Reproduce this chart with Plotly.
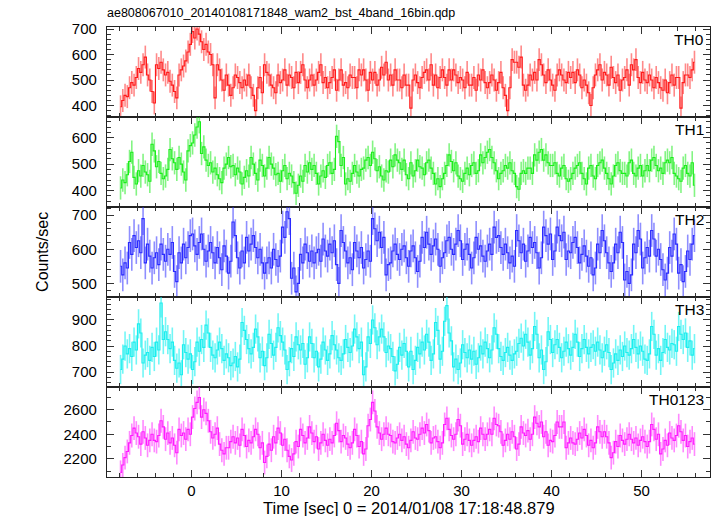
import plotly.graph_objects as go
from plotly.subplots import make_subplots

# ---------------- data (0.25 s bins starting at t = -8 s) ----------------
t_start = -8.0
bin_width = 0.25

th0 = [
    395, 420, 440, 435, 470, 490, 480, 510,
    545, 530, 560, 590, 520, 500, 455, 410,
    560, 545, 570, 540, 520, 530, 495, 480,
    455, 430, 520, 540, 555, 575, 610, 640,
    690, 665, 700, 680, 650, 620, 640, 610,
    600, 560, 430, 560, 540, 500, 460, 520,
    480, 440, 470, 520, 510, 490, 470, 500,
    480, 520, 470, 440, 380, 470, 510, 450,
    560, 530, 520, 480, 470, 450, 520, 490,
    500, 540, 480, 520, 510, 470, 530, 490,
    530, 560, 500, 470, 500, 520, 480, 500,
    530, 560, 490, 510, 470, 490, 510, 540,
    460, 500, 540, 480, 490, 470, 520, 510,
    510, 470, 540, 520, 540, 500, 460, 530,
    500, 530, 480, 500, 550, 520, 570, 500,
    520, 480, 540, 500, 500, 470, 520, 480,
    480, 390, 500, 520, 490, 470, 510, 530,
    540, 500, 560, 480, 520, 470, 510, 540,
    510, 480, 540, 500, 540, 520, 490, 510,
    500, 470, 530, 480, 480, 510, 460, 520,
    500, 540, 490, 470, 490, 520, 500, 460,
    490, 530, 470, 440, 380, 470, 580, 570,
    570, 550, 590, 480, 460, 480, 520, 500,
    530, 500, 580, 560, 520, 490, 540, 500,
    480, 460, 520, 540, 520, 500, 490, 530,
    510, 530, 490, 540, 520, 470, 500, 480,
    450, 400, 470, 520, 540, 560, 500, 530,
    520, 480, 550, 510, 490, 520, 460, 500,
    510, 540, 480, 560, 540, 580, 510, 490,
    530, 500, 490, 520, 500, 470, 510, 490,
    470, 460, 500, 450, 490, 520, 480, 510,
    510, 390, 490, 520, 520, 510, 540, 570,
]

th1 = [
    410, 440, 430, 460, 510, 545, 450, 425,
    475, 455, 495, 470, 460, 435, 575, 550,
    490, 510, 465, 445, 455, 480, 555, 520,
    505, 480, 525, 500, 470, 440, 550, 570,
    580, 610, 640, 660, 540, 565, 515, 495,
    505, 470, 485, 460, 445, 430, 485, 500,
    525, 490, 495, 460, 485, 470, 425, 450,
    475, 455, 525, 500, 465, 440, 515, 495,
    455, 485, 525, 500, 485, 460, 465, 435,
    475, 495, 445, 465, 455, 430, 390, 420,
    455, 435, 495, 470, 505, 480, 495, 465,
    425, 455, 475, 450, 495, 505, 465, 480,
    605, 585, 495, 525, 425, 445, 435, 465,
    495, 470, 455, 480, 485, 515, 525, 495,
    545, 520, 475, 490, 455, 440, 475, 470,
    515, 490, 535, 515, 505, 480, 515, 460,
    445, 505, 455, 475, 515, 490, 485, 460,
    505, 515, 485, 465, 425, 445, 415, 445,
    465, 495, 535, 510, 475, 505, 455, 445,
    435, 465, 485, 460, 495, 505, 465, 475,
    535, 505, 525, 545, 555, 525, 505, 475,
    445, 465, 475, 495, 485, 505, 475, 465,
    415, 405, 465, 475, 465, 485, 485, 465,
    535, 515, 545, 555, 515, 535, 505, 495,
    495, 505, 465, 455, 485, 495, 445, 435,
    445, 465, 485, 495, 505, 465, 445, 425,
    485, 495, 455, 445, 495, 505, 515, 485,
    465, 445, 425, 455, 495, 505, 475, 465,
    465, 455, 505, 515, 465, 455, 485, 495,
    455, 475, 495, 475, 515, 525, 495, 475,
    485, 465, 505, 515, 505, 525, 465, 455,
    445, 435, 485, 495, 465, 455, 505, 420,
]

th2 = [
    550, 525, 560, 545, 620, 585, 640, 605,
    625, 590, 690, 560, 615, 580, 545, 575,
    590, 555, 615, 585, 565, 600, 585, 620,
    535, 505, 590, 560, 615, 575, 605, 640,
    645, 610, 585, 620, 645, 600, 565, 595,
    620, 590, 560, 605, 575, 540, 610, 580,
    530, 565, 680, 640, 575, 545, 595, 560,
    635, 595, 615, 640, 605, 575, 600, 560,
    530, 560, 575, 545, 600, 570, 550, 580,
    665, 635, 710, 690, 515, 545, 475, 500,
    585, 560, 615, 590, 565, 595, 560, 590,
    600, 565, 630, 595, 580, 615, 590, 625,
    555, 500, 655, 620, 595, 560, 575, 540,
    620, 595, 575, 605, 545, 570, 595, 565,
    690, 660, 625, 650, 605, 635, 525, 555,
    560, 595, 615, 585, 570, 600, 610, 575,
    550, 595, 610, 575, 535, 565, 635, 605,
    650, 615, 585, 610, 630, 600, 550, 575,
    590, 625, 635, 600, 585, 615, 655, 625,
    570, 600, 615, 585, 545, 575, 635, 600,
    610, 580, 565, 595, 615, 585, 665, 635,
    640, 605, 585, 615, 590, 560, 580, 550,
    655, 625, 590, 615, 565, 595, 635, 605,
    620, 590, 545, 575, 665, 640, 615, 645,
    570, 595, 665, 640, 625, 650, 570, 595,
    590, 620, 635, 605, 560, 585, 610, 580,
    550, 575, 525, 545, 615, 590, 655, 625,
    590, 560, 535, 560, 615, 590, 650, 620,
    510, 535, 500, 525, 615, 590, 655, 630,
    545, 575, 605, 580, 655, 630, 580, 600,
    570, 540, 510, 530, 605, 580, 645, 615,
    530, 555, 505, 535, 595, 570, 615, 640,
]

th3 = [
    710, 750, 800, 770, 790, 760, 815, 785,
    885, 850, 735, 765, 775, 745, 795, 760,
    815, 785, 965, 825, 855, 825, 790, 815,
    745, 715, 735, 690, 805, 775, 750, 770,
    710, 740, 815, 780, 825, 795, 880, 850,
    795, 765, 755, 785, 815, 790, 745, 770,
    755, 725, 735, 760, 720, 750, 890, 860,
    825, 790, 770, 795, 865, 835, 755, 780,
    725, 755, 845, 810, 765, 795, 870, 840,
    815, 785, 710, 740, 790, 760, 835, 805,
    785, 810, 730, 755, 835, 810, 755, 780,
    720, 750, 815, 785, 745, 770, 840, 805,
    785, 755, 745, 770, 825, 795, 775, 800,
    865, 835, 790, 815, 690, 720, 835, 810,
    900, 870, 805, 835, 865, 835, 775, 800,
    790, 760, 705, 730, 795, 765, 810, 780,
    720, 780, 710, 745, 795, 770, 815, 785,
    845, 815, 745, 770, 890, 860, 750, 780,
    895, 955, 850, 820, 720, 750, 710, 735,
    805, 775, 755, 785, 750, 780, 730, 755,
    800, 770, 815, 790, 755, 785, 870, 845,
    790, 760, 745, 775, 795, 765, 745, 770,
    780, 810, 830, 800, 845, 815, 765, 790,
    875, 845, 755, 785, 710, 740, 855, 825,
    775, 805, 825, 795, 755, 780, 815, 790,
    765, 795, 845, 815, 760, 790, 825, 795,
    770, 795, 805, 780, 815, 785, 755, 780,
    805, 775, 710, 735, 770, 745, 785, 760,
    800, 775, 765, 790, 825, 795, 770, 800,
    780, 750, 745, 770, 875, 845, 765, 790,
    745, 775, 825, 795, 785, 810, 805, 780,
    875, 845, 825, 850, 795, 820, 765, 790,
]

th0123 = [
    2090, 2150, 2210, 2260, 2330, 2390, 2450, 2410,
    2380, 2320, 2420, 2370, 2310, 2350, 2400, 2350,
    2340, 2390, 2510, 2460, 2360, 2410, 2330, 2370,
    2310, 2250, 2440, 2390, 2410, 2360, 2440, 2400,
    2540, 2610, 2660, 2700, 2540, 2600, 2570, 2510,
    2420, 2370, 2400, 2450, 2320, 2270, 2240, 2290,
    2290, 2340, 2380, 2330, 2370, 2310, 2440, 2390,
    2300, 2350, 2330, 2380, 2440, 2400, 2290, 2330,
    2170, 2220, 2320, 2270, 2380, 2330, 2450, 2410,
    2310, 2360, 2270, 2220, 2190, 2240, 2340, 2300,
    2440, 2390, 2330, 2370, 2460, 2410, 2340, 2380,
    2280, 2330, 2400, 2350, 2310, 2360, 2330, 2390,
    2490, 2430, 2340, 2390, 2370, 2320, 2290, 2330,
    2440, 2390, 2300, 2340, 2240, 2280, 2470, 2520,
    2660, 2590, 2460, 2410, 2360, 2400, 2450, 2400,
    2390, 2340, 2330, 2370, 2400, 2350, 2380, 2320,
    2290, 2350, 2420, 2370, 2360, 2400, 2450, 2410,
    2480, 2430, 2330, 2370, 2380, 2340, 2290, 2330,
    2480, 2530, 2440, 2390, 2360, 2400, 2520, 2470,
    2320, 2360, 2400, 2350, 2310, 2350, 2380, 2340,
    2450, 2400, 2360, 2400, 2440, 2400, 2530, 2480,
    2470, 2420, 2310, 2350, 2400, 2360, 2420, 2380,
    2280, 2320, 2460, 2410, 2390, 2430, 2360, 2400,
    2540, 2490, 2460, 2500, 2380, 2420, 2310, 2350,
    2340, 2390, 2500, 2460, 2460, 2500, 2290, 2330,
    2370, 2330, 2320, 2360, 2410, 2370, 2440, 2390,
    2310, 2350, 2290, 2330, 2460, 2420, 2380, 2420,
    2380, 2330, 2210, 2250, 2340, 2300, 2390, 2350,
    2320, 2360, 2400, 2360, 2330, 2370, 2310, 2350,
    2380, 2340, 2300, 2340, 2480, 2440, 2360, 2400,
    2240, 2280, 2350, 2310, 2410, 2370, 2350, 2390,
    2470, 2420, 2350, 2390, 2300, 2340, 2370, 2320,
]

panel_names = ["TH0", "TH1", "TH2", "TH3", "TH0123"]
panel_values = [th0, th1, th2, th3, th0123]
panel_errors = [45, 44, 48, 56, 97]          # typical 1-sigma error (counts/sec)
panel_colors = ["#ff1a1a", "#1aee1a", "#2a2aff", "#1aeeee", "#ff1aff"]
panel_err_colors = ["rgba(255,40,40,0.55)", "rgba(30,235,30,0.55)", "rgba(50,50,255,0.55)",
                    "rgba(20,240,240,0.6)", "rgba(255,40,255,0.55)"]
panel_ranges = [[355, 708], [338, 678], [460, 724], [643, 988], [2052, 2785]]
panel_dticks = [100, 100, 100, 100, 200]
panel_minor = [20, 20, 20, 20, 100]

title_text = "ae808067010_20140108171848_wam2_bst_4band_16bin.qdp"
x_title = "Time [sec] 0 = 2014/01/08 17:18:48.879"
y_title = "Counts/sec"

FONT = "Liberation Sans, Arial, Helvetica, sans-serif"

time = [t_start + bin_width * (i + 0.5) for i in range(len(th0))]

fig = make_subplots(rows=5, cols=1, shared_xaxes=True, vertical_spacing=0)

for i, (name, vals) in enumerate(zip(panel_names, panel_values)):
    fig.add_trace(go.Scatter(
        x=time, y=vals, mode="lines",
        line=dict(color=panel_colors[i], width=1.1, shape="hvh"),
        error_y=dict(type="constant", value=panel_errors[i], color=panel_err_colors[i],
                     thickness=1.6, width=0),
        showlegend=False, hoverinfo="skip",
    ), row=i + 1, col=1)

    fig.update_yaxes(
        range=panel_ranges[i], dtick=panel_dticks[i], tick0=0,
        ticks="inside", ticklen=7, tickwidth=1, tickcolor="#333",
        minor=dict(dtick=panel_minor[i], ticks="inside", ticklen=4, tickcolor="#333", showgrid=False),
        showline=True, linecolor="#222", linewidth=1.2, mirror="ticks",
        showgrid=False, zeroline=False,
        tickfont=dict(family=FONT, size=15, color="black"),
        ticklabelstandoff=6,
        row=i + 1, col=1)
    fig.update_xaxes(
        range=[-9.38, 57.6], dtick=10, tick0=0,
        ticks="inside", ticklen=7, tickwidth=1, tickcolor="#333",
        minor=dict(dtick=2, ticks="inside", ticklen=4, tickcolor="#333", showgrid=False),
        showline=True, linecolor="#222", linewidth=1.2, mirror="ticks",
        showgrid=False, zeroline=False,
        tickfont=dict(family=FONT, size=15, color="black"),
        row=i + 1, col=1)

    axis_suffix = "" if i == 0 else str(i + 1)
    fig.add_annotation(
        text=name, xref=f"x{axis_suffix} domain", yref=f"y{axis_suffix} domain",
        x=1, y=1, xanchor="right", yanchor="top", xshift=-4, yshift=-2,
        showarrow=False, font=dict(family=FONT, size=15.5, color="black"))

fig.add_annotation(text=y_title, xref="paper", yref="paper", x=-0.108, y=0.5,
                   xanchor="center", yanchor="middle", textangle=-90, showarrow=False,
                   font=dict(family=FONT, size=16, color="black"))
fig.add_annotation(text=x_title, xref="paper", yref="paper", x=0.5, y=-0.069,
                   xanchor="center", yanchor="middle", showarrow=False,
                   font=dict(family=FONT, size=16.5, color="black"))

fig.update_layout(
    width=717, height=516,
    margin=dict(l=107, r=7, t=27, b=39),
    paper_bgcolor="white", plot_bgcolor="white",
    title=dict(text=title_text, x=107 / 717, xanchor="left", y=1 - 13 / 516, yanchor="middle",
               font=dict(family=FONT, size=12.5, color="black")),
    showlegend=False,
)

fig.write_html("out.html", config={"displayModeBar": False},
               post_script="document.body.style.margin='0';")
